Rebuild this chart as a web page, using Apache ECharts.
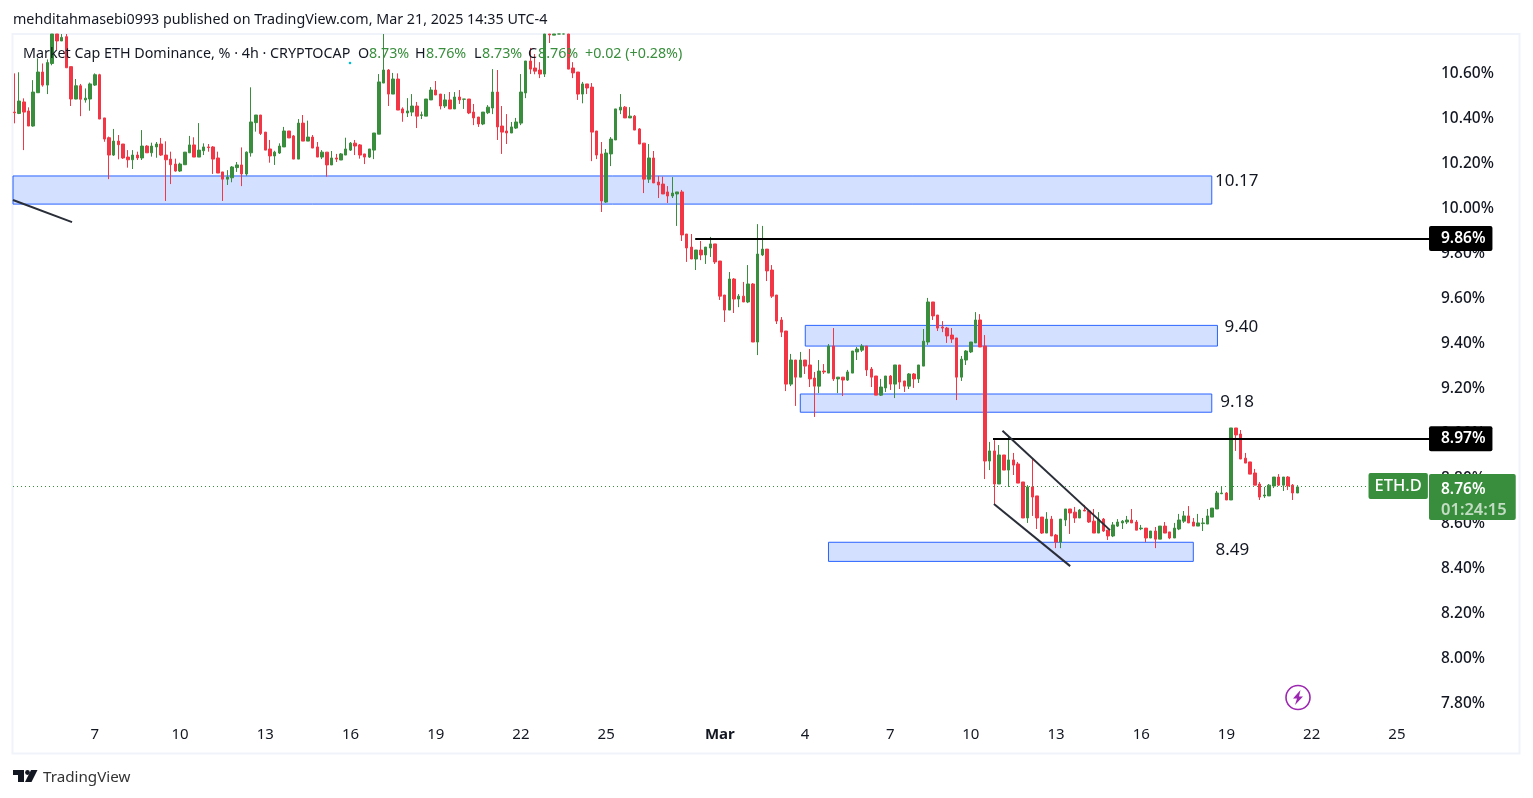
<!DOCTYPE html>
<html>
<head>
<meta charset="utf-8">
<title>ETH Dominance</title>
<script src="https://cdn.jsdelivr.net/npm/echarts@6/dist/echarts.min.js"></script>
<style>
  html, body { margin: 0; padding: 0; background: #fff; }
  #main { width: 1533px; height: 798px; }
</style>
</head>
<body>
<div id="main"></div>
<script>
// 4h candles, [open, close, low, high]. The ones running off the top of the pane stop at its edge
const ohlc = [
  [10.422,10.419,10.372,10.594],[10.416,10.471,10.413,10.599],[10.467,10.422,10.253,10.483],[10.427,10.360,10.360,10.443],
  [10.360,10.511,10.357,10.564],[10.508,10.600,10.508,10.661],[10.600,10.542,10.535,10.638],[10.542,10.642,10.502,10.656],
  [10.638,10.769,10.630,10.769],[10.769,10.738,10.698,10.769],[10.738,10.754,10.738,10.769],[10.757,10.619,10.619,10.769],
  [10.624,10.480,10.449,10.624],[10.480,10.539,10.479,10.569],[10.539,10.479,10.404,10.547],[10.476,10.484,10.464,10.527],
  [10.480,10.547,10.428,10.553],[10.542,10.588,10.538,10.594],[10.588,10.391,10.391,10.592],[10.396,10.302,10.290,10.396],
  [10.308,10.231,10.124,10.313],[10.231,10.293,10.227,10.347],[10.293,10.277,10.212,10.320],[10.280,10.218,10.214,10.280],
  [10.222,10.210,10.175,10.253],[10.210,10.231,10.169,10.253],[10.231,10.218,10.209,10.246],[10.218,10.271,10.209,10.342],
  [10.271,10.241,10.241,10.275],[10.241,10.271,10.224,10.286],[10.267,10.280,10.219,10.289],[10.280,10.231,10.227,10.307],
  [10.231,10.210,10.027,10.292],[10.213,10.188,10.102,10.246],[10.191,10.160,10.157,10.215],[10.160,10.191,10.156,10.197],
  [10.188,10.244,10.188,10.244],[10.241,10.276,10.241,10.316],[10.276,10.222,10.222,10.310],[10.222,10.253,10.222,10.373],
  [10.250,10.267,10.231,10.283],[10.267,10.264,10.246,10.280],[10.267,10.213,10.147,10.271],[10.218,10.151,10.151,10.246],
  [10.156,10.124,10.027,10.156],[10.124,10.133,10.098,10.164],[10.130,10.178,10.110,10.182],[10.175,10.187,10.156,10.200],
  [10.187,10.147,10.093,10.265],[10.147,10.244,10.139,10.247],[10.241,10.378,10.224,10.532],[10.375,10.409,10.335,10.409],
  [10.409,10.327,10.320,10.409],[10.333,10.253,10.253,10.333],[10.258,10.227,10.197,10.298],[10.227,10.244,10.187,10.250],
  [10.240,10.271,10.236,10.283],[10.267,10.338,10.267,10.356],[10.338,10.307,10.307,10.338],[10.316,10.213,10.213,10.320],
  [10.213,10.373,10.213,10.391],[10.373,10.293,10.293,10.409],[10.293,10.311,10.293,10.384],[10.311,10.262,10.262,10.320],
  [10.267,10.222,10.222,10.289],[10.222,10.244,10.213,10.253],[10.244,10.187,10.135,10.244],[10.187,10.218,10.187,10.249],
  [10.218,10.213,10.200,10.236],[10.209,10.236,10.209,10.240],[10.231,10.258,10.231,10.308],[10.253,10.284,10.249,10.289],
  [10.284,10.271,10.231,10.298],[10.276,10.231,10.215,10.280],[10.236,10.222,10.191,10.236],[10.222,10.258,10.218,10.258],
  [10.253,10.329,10.213,10.329],[10.324,10.556,10.324,10.591],[10.551,10.609,10.551,10.769],[10.609,10.502,10.449,10.613],
  [10.502,10.569,10.502,10.596],[10.569,10.431,10.431,10.594],[10.436,10.418,10.379,10.443],[10.418,10.427,10.400,10.484],
  [10.422,10.449,10.404,10.502],[10.449,10.404,10.351,10.467],[10.407,10.410,10.391,10.424],[10.404,10.480,10.404,10.480],
  [10.476,10.520,10.476,10.533],[10.520,10.498,10.498,10.560],[10.502,10.449,10.434,10.502],[10.449,10.476,10.440,10.502],
  [10.476,10.436,10.436,10.511],[10.436,10.489,10.436,10.511],[10.489,10.476,10.458,10.520],[10.479,10.480,10.436,10.480],
  [10.480,10.418,10.413,10.480],[10.422,10.396,10.364,10.458],[10.400,10.369,10.356,10.400],[10.369,10.422,10.364,10.422],
  [10.419,10.444,10.413,10.453],[10.440,10.511,10.413,10.613],[10.511,10.356,10.298,10.609],[10.360,10.333,10.236,10.449],
  [10.338,10.329,10.280,10.413],[10.329,10.356,10.329,10.378],[10.351,10.378,10.347,10.396],[10.373,10.511,10.364,10.591],
  [10.507,10.649,10.484,10.649],[10.649,10.613,10.591,10.707],[10.618,10.604,10.590,10.680],[10.609,10.591,10.573,10.644],
  [10.591,10.769,10.578,10.769],[10.769,10.765,10.729,10.769],[10.764,10.769,10.764,10.769],[10.769,10.769,10.769,10.769],
  [10.769,10.769,10.769,10.769],[10.769,10.613,10.613,10.769],[10.618,10.596,10.573,10.644],[10.600,10.502,10.476,10.600],
  [10.502,10.547,10.461,10.556],[10.547,10.529,10.502,10.547],[10.533,10.333,10.204,10.551],[10.338,10.231,10.213,10.338],
  [10.236,10.027,9.978,10.289],[10.022,10.240,10.018,10.258],[10.236,10.302,10.182,10.311],[10.298,10.436,10.298,10.436],
  [10.431,10.444,10.413,10.502],[10.444,10.396,10.396,10.449],[10.396,10.404,10.396,10.444],[10.404,10.342,10.342,10.409],
  [10.347,10.280,10.280,10.351],[10.284,10.124,10.062,10.284],[10.124,10.218,10.107,10.280],[10.218,10.107,10.107,10.249],
  [10.111,10.098,10.040,10.138],[10.102,10.058,10.058,10.135],[10.067,10.049,10.018,10.093],[10.049,10.062,10.040,10.133],
  [10.058,10.067,9.916,10.067],[10.067,9.876,9.849,10.076],[9.880,9.818,9.756,9.880],[9.822,9.769,9.769,9.880],
  [9.769,9.809,9.720,9.809],[9.809,9.787,9.764,9.849],[9.787,9.822,9.747,9.822],[9.818,9.836,9.778,9.867],
  [9.836,9.756,9.747,9.836],[9.760,9.604,9.587,9.760],[9.609,9.542,9.489,9.609],[9.542,9.680,9.542,9.711],
  [9.680,9.591,9.529,9.684],[9.591,9.604,9.555,9.613],[9.604,9.578,9.578,9.667],[9.578,9.658,9.573,9.742],
  [9.658,9.400,9.400,9.662],[9.400,9.791,9.342,9.924],[9.787,9.813,9.782,9.916],[9.813,9.716,9.671,9.813],
  [9.720,9.604,9.596,9.742],[9.609,9.493,9.480,9.609],[9.498,9.444,9.422,9.511],[9.449,9.213,9.182,9.449],
  [9.213,9.320,9.204,9.347],[9.320,9.244,9.116,9.320],[9.244,9.320,9.244,9.356],[9.320,9.293,9.258,9.320],
  [9.298,9.236,9.200,9.369],[9.240,9.204,9.067,9.267],[9.204,9.271,9.173,9.320],[9.271,9.267,9.258,9.302],
  [9.262,9.382,9.262,9.391],[9.382,9.236,9.227,9.462],[9.236,9.244,9.173,9.244],[9.244,9.231,9.160,9.244],
  [9.231,9.267,9.227,9.276],[9.262,9.360,9.262,9.360],[9.356,9.369,9.320,9.378],[9.364,9.382,9.356,9.391],
  [9.382,9.276,9.249,9.382],[9.280,9.244,9.200,9.289],[9.249,9.164,9.164,9.249],[9.164,9.200,9.160,9.236],
  [9.196,9.249,9.178,9.249],[9.249,9.213,9.187,9.253],[9.213,9.298,9.151,9.298],[9.298,9.222,9.191,9.298],
  [9.227,9.204,9.178,9.227],[9.204,9.258,9.191,9.262],[9.258,9.236,9.196,9.262],[9.236,9.298,9.218,9.298],
  [9.293,9.404,9.293,9.458],[9.400,9.578,9.387,9.596],[9.578,9.516,9.498,9.578],[9.520,9.462,9.449,9.520],
  [9.467,9.462,9.444,9.493],[9.462,9.427,9.396,9.467],[9.431,9.413,9.396,9.462],[9.418,9.244,9.142,9.418],
  [9.244,9.324,9.227,9.338],[9.320,9.360,9.298,9.364],[9.356,9.400,9.351,9.400],[9.396,9.498,9.396,9.533],
  [9.498,9.378,9.378,9.524],[9.382,8.871,8.791,9.431],[8.871,8.916,8.831,8.956],[8.916,8.769,8.676,8.964],
  [8.769,8.898,8.769,8.942],[8.898,8.831,8.831,8.898],[8.831,8.876,8.756,8.982],[8.876,8.853,8.809,8.907],
  [8.858,8.773,8.773,8.867],[8.778,8.618,8.618,8.778],[8.618,8.756,8.596,8.764],[8.756,8.711,8.627,8.880],
  [8.716,8.618,8.569,8.716],[8.622,8.551,8.547,8.622],[8.551,8.613,8.551,8.644],[8.613,8.538,8.538,8.627],
  [8.542,8.511,8.484,8.547],[8.511,8.613,8.484,8.613],[8.609,8.658,8.582,8.658],[8.658,8.640,8.547,8.658],
  [8.644,8.618,8.596,8.667],[8.618,8.653,8.618,8.658],[8.653,8.649,8.649,8.676],[8.649,8.600,8.596,8.653],
  [8.604,8.551,8.551,8.658],[8.551,8.613,8.551,8.644],[8.613,8.560,8.556,8.618],[8.564,8.538,8.520,8.564],
  [8.538,8.587,8.533,8.600],[8.582,8.600,8.578,8.613],[8.596,8.604,8.569,8.609],[8.600,8.609,8.591,8.627],
  [8.609,8.596,8.596,8.658],[8.600,8.564,8.564,8.609],[8.570,8.573,8.564,8.587],[8.573,8.529,8.511,8.573],
  [8.529,8.560,8.529,8.560],[8.560,8.524,8.484,8.578],[8.524,8.582,8.524,8.582],[8.582,8.551,8.551,8.600],
  [8.556,8.529,8.524,8.556],[8.529,8.573,8.529,8.596],[8.569,8.609,8.564,8.636],[8.604,8.627,8.596,8.649],
  [8.627,8.596,8.596,8.671],[8.600,8.582,8.582,8.618],[8.582,8.596,8.582,8.636],[8.593,8.596,8.560,8.618],
  [8.591,8.627,8.591,8.658],[8.622,8.662,8.622,8.662],[8.658,8.729,8.658,8.738],[8.726,8.729,8.724,8.756],
  [8.729,8.698,8.698,8.733],[8.698,9.018,8.698,9.018],[9.018,8.987,8.916,9.018],[8.991,8.880,8.880,9.009],
  [8.884,8.862,8.862,8.907],[8.867,8.813,8.813,8.867],[8.818,8.764,8.764,8.836],[8.769,8.711,8.698,8.778],
  [8.716,8.720,8.707,8.756],[8.716,8.764,8.716,8.769],[8.760,8.800,8.751,8.800],[8.800,8.764,8.760,8.813],
  [8.764,8.800,8.738,8.800],[8.800,8.760,8.742,8.804],[8.764,8.729,8.698,8.769],[8.729,8.756,8.729,8.764]
]

const yTicks = [7.8, 8.0, 8.2, 8.4, 8.6, 8.8, 9.0, 9.2, 9.4, 9.6, 9.8, 10.0, 10.2, 10.4, 10.6]
const xTickIndex = [17, 35, 53, 71, 89, 107, 125, 149, 167, 185, 202, 220, 238, 256, 274, 292]
const xTickLabels = ['7', '10', '13', '16', '19', '22', '25', 'Mar', '4', '7', '10', '13', '16', '19', '22', '25']

// demand / supply boxes: candle index from, to, price top, bottom
const zones = [
  [-1, 252.9, 10.138, 10.013],
  [167.05, 254.1, 9.474, 9.382],
  [166, 252.9, 9.169, 9.088],
  [171.95, 249, 8.510, 8.425]
]
// text next to the boxes: candle index, price, text
const zoneNotes = [
  [253.5, 10.116, '10.17'],
  [255.5, 9.467, '9.40'],
  [254.6, 9.134, '9.18'],
  [253.6, 8.476, '8.49']
]
// hand drawn trend lines: index, price, index, price
const trendLines = [
  [-0.275, 10.031, 12.19, 9.933],
  [208.7, 9.006, 231.4, 8.564],
  [206.9, 8.68, 223, 8.404]
]
const levels = [[143.8, 9.86], [206.7, 8.97]]
const lastPrice = 8.76
const xMin = -0.275
const xMax = 298.99

const GREEN = '#388e3c'
const RED = '#f23645'
const FONT = '"Noto Sans", sans-serif'
const TEXT = '#131722'

const myChart = echarts.init(document.getElementById('main'), null, { renderer: 'canvas' })

const levelLines = levels.map(function (l) {
  return [{
    coord: [l[0], l[1]],
    lineStyle: { color: '#000', width: 2, type: 'solid' },
    label: {
      show: true,
      position: 'end',
      distance: 0,
      offset: [-1, 0],
      formatter: l[1].toFixed(2) + '%',
      color: '#fff',
      fontFamily: FONT,
      fontSize: 15.5,
      fontWeight: 600,
      backgroundColor: '#000',
      borderRadius: 2,
      padding: [7, 7, 2, 12]
    }
  }, { coord: [xMax, l[1]] }]
})

const slantLines = trendLines.map(function (t) {
  return [{
    coord: [t[0], t[1]],
    lineStyle: { color: '#2a2e39', width: 2, type: 'solid' },
    label: { show: false }
  }, { coord: [t[2], t[3]] }]
})

const priceLine = [{
  coord: [xMin, lastPrice],
  lineStyle: { color: GREEN, width: 1, type: [1, 3] },
  label: {
    show: true,
    position: 'end',
    distance: 0,
    offset: [-1, 11],
    formatter: '{p|' + lastPrice.toFixed(2) + '%}\n{t|01:24:15}',
    backgroundColor: GREEN,
    borderRadius: 2,
    padding: [6, 9, 0, 12],
    rich: {
      p: { color: '#fff', fontFamily: FONT, fontSize: 15.5, fontWeight: 600, lineHeight: 20 },
      t: { color: 'rgba(255,255,255,0.7)', fontFamily: FONT, fontSize: 16.5, fontWeight: 600, lineHeight: 20 }
    }
  }
}, { coord: [xMax, lastPrice] }]

function topText (text, left, top, color, size) {
  return { text: text, left: left, top: top, padding: 0, textStyle: { color: color, fontFamily: FONT, fontSize: size, fontWeight: 'normal' } }
}

const option = {
  animation: false,
  backgroundColor: '#fff',
  title: [
    topText('mehditahmasebi0993 published on TradingView.com, Mar 21, 2025 14:35 UTC-4', 13, 13, TEXT, 14.3),
    topText('Market Cap ETH Dominance, % · 4h · CRYPTOCAP', 23, 47, TEXT, 14.3),
    topText('O', 358, 47, TEXT, 14.3),
    topText('8.73%', 369, 47, GREEN, 14.3),
    topText('H', 415, 47, TEXT, 14.3),
    topText('8.76%', 426, 47, GREEN, 14.3),
    topText('L', 474, 47, TEXT, 14.3),
    topText('8.73%', 482, 47, GREEN, 14.3),
    topText('C', 528, 47, TEXT, 14.3),
    topText('8.76%', 538, 47, GREEN, 14.3),
    topText('+0.02 (+0.28%)', 585, 47, GREEN, 14.3),
    topText('TradingView', 43, 770, '#333', 15.2)
  ],
  grid: { left: 13, top: 34, width: 1417, height: 684, containLabel: false },
  xAxis: {
    type: 'value',
    min: xMin,
    max: xMax,
    axisLine: { show: false },
    axisTick: { show: false },
    splitLine: { show: false },
    axisLabel: {
      customValues: xTickIndex,
      hideOverlap: false,
      margin: 9,
      color: TEXT,
      fontFamily: FONT,
      fontSize: 15,
      formatter: function (val) {
        const label = xTickLabels[xTickIndex.indexOf(val)]
        return label === 'Mar' ? '{b|Mar}' : label
      },
      rich: { b: { fontFamily: FONT, fontSize: 15, fontWeight: 'bold', color: TEXT } }
    }
  },
  yAxis: {
    type: 'value',
    position: 'right',
    min: 7.729,
    max: 10.769,
    axisLine: { show: false },
    axisTick: { show: false },
    splitLine: { show: false },
    axisLabel: {
      customValues: yTicks,
      margin: 11,
      color: TEXT,
      fontFamily: FONT,
      fontSize: 15.5,
      fontWeight: 500,
      align: 'left',
      verticalAlign: 'top',
      lineHeight: 4,
      formatter: function (val) {
        return val.toFixed(2) + '%'
      }
    }
  },
  series: [{
    name: 'ETH.D',
    type: 'candlestick',
    barWidth: 3,
    clip: true,
    itemStyle: {
      color: GREEN,
      color0: RED,
      borderColor: GREEN,
      borderColor0: RED,
      borderWidth: 1
    },
    data: ohlc.map(function (row, i) {
      return [i, row[0], row[1], row[2], row[3]]
    }),
    markArea: {
      silent: true,
      itemStyle: { color: 'rgba(41,98,255,0.2)', borderColor: '#2962ff', borderWidth: 1 },
      data: zones.map(function (z) {
        return [{ coord: [z[0], z[2]] }, { coord: [z[1], z[3]] }]
      })
    },
    markLine: {
      silent: true,
      symbol: 'none',
      precision: 4,
      data: levelLines.concat(slantLines, [priceLine])
    },
    markPoint: {
      silent: true,
      symbol: 'circle',
      symbolSize: 1,
      itemStyle: { color: 'rgba(0,0,0,0)' },
      data: zoneNotes.map(function (n) {
        return {
          coord: [n[0], n[1]],
          label: { show: true, position: 'right', distance: 0, formatter: n[2], color: TEXT, fontFamily: FONT, fontSize: 17 }
        }
      }).concat([{
        coord: [285.9, lastPrice],
        label: {
          show: true,
          position: 'right',
          distance: 0,
          formatter: 'ETH.D',
          color: '#fff',
          fontFamily: FONT,
          fontSize: 16.5,
          fontWeight: 500,
          backgroundColor: GREEN,
          borderRadius: 2,
          padding: [7, 6, 2, 6]
        }
      }])
    }
  }],
  graphic: [
    // pane frame
    { type: 'rect', z: -1, shape: { x: 12.5, y: 34, width: 1507, height: 719.5 }, style: { fill: 'none', stroke: '#f0f3fa', lineWidth: 2 } },
    // cyan status dot
    { type: 'circle', z: 10, shape: { cx: 350, cy: 63, r: 1.3 }, style: { fill: '#00bcd4' } },
    // purple bolt badge
    { type: 'circle', z: 10, shape: { cx: 1298, cy: 697.5, r: 12 }, style: { fill: '#fff', stroke: '#9c27b0', lineWidth: 1.6 } },
    { type: 'polygon', z: 11, shape: { points: [[1300.5, 690], [1293, 698.5], [1297, 698.5], [1295, 705], [1303, 696.5], [1299, 696.5]] }, style: { fill: '#9c27b0' } },
    // tradingview mark
    { type: 'polygon', z: 10, shape: { points: [[13, 770], [24, 770], [24, 782], [18, 782], [18, 775], [13, 775]] }, style: { fill: '#131722' } },
    { type: 'circle', z: 10, shape: { cx: 27.5, cy: 772.5, r: 2.4 }, style: { fill: '#131722' } },
    { type: 'polygon', z: 10, shape: { points: [[31, 770], [37.5, 770], [31.5, 782], [25, 782]] }, style: { fill: '#131722' } }
  ]
}

myChart.setOption(option)
</script>
</body>
</html>
